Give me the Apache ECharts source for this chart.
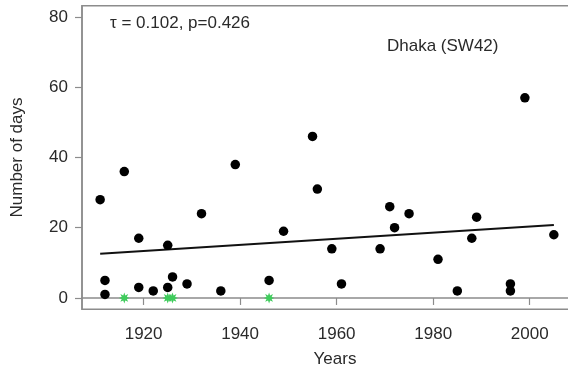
<!DOCTYPE html>
<html>
<head>
<meta charset="utf-8">
<script src="https://cdn.jsdelivr.net/npm/echarts@6/dist/echarts.min.js"></script>
<style>
  html, body { margin: 0; padding: 0; background: #fff; }
  #chart { width: 568px; height: 369px; }
</style>
</head>
<body>
<div id="chart"></div>
<script>
// years with at least one day
const years = [1911, 1912, 1912, 1916, 1919, 1919, 1922, 1925, 1925, 1926, 1929, 1932, 1936, 1939,
  1946, 1949, 1955, 1956, 1959, 1961, 1969, 1971, 1972, 1975, 1981, 1985, 1988, 1989, 1996, 1996, 1999, 2005]
const days = [28, 5, 1, 36, 17, 3, 2, 15, 3, 6, 4, 24, 2, 38,
  5, 19, 46, 31, 14, 4, 14, 26, 20, 24, 11, 2, 17, 23, 4, 2, 57, 18]
// years with zero days (green stars)
const zeroYears = [1916, 1925, 1926, 1946]
const zeroDays = [0, 0, 0, 0]
// trend line ends
const trendYears = [1911, 2005]
const trendDays = [12.6, 20.8]

const xTicks = [1920, 1940, 1960, 1980, 2000]
const yTicks = [0, 20, 40, 60, 80]

// 8-pointed star symbol
function starPath() {
  let d = ''
  for (let i = 0; i < 16; i++) {
    const r = i % 2 === 0 ? 10 : 5
    const a = Math.PI * i / 8
    d += (i === 0 ? 'M' : 'L') + (10 + r * Math.sin(a)).toFixed(2) + ',' + (10 - r * Math.cos(a)).toFixed(2)
  }
  return 'path://' + d + 'Z'
}

const txt = '#2a2a2a'
const gray = '#8c8c8c'
const font = 'Liberation Sans, Arial, Helvetica, sans-serif'

const myChart = echarts.init(document.getElementById('chart'))
myChart.setOption({
  animation: false,
  grid: {
    left: 82,
    top: 5.8,
    width: 490,
    bottom: 59.8,
    outerBoundsMode: 'none',
    containLabel: false,
    show: true,
    borderColor: gray,
    borderWidth: 1.5,
  },
  xAxis: {
    type: 'value',
    min: 1907.24,
    max: 2008.76,
    name: 'Years',
    nameLocation: 'middle',
    nameGap: 42,
    nameTextStyle: { color: txt, fontSize: 17, fontFamily: font, padding: [0, 0, 0, 16] },
    splitLine: { show: false },
    axisLine: { show: true, lineStyle: { color: gray, width: 1.5 } },
    axisTick: { show: true, inside: false, length: 7, customValues: xTicks, lineStyle: { color: gray, width: 1.2 } },
    axisLabel: { customValues: xTicks, color: txt, fontSize: 17, fontFamily: font, margin: 17,
      formatter: (v) => String(v) },
  },
  yAxis: {
    type: 'value',
    min: -3.2,
    max: 83.2,
    name: 'Number of days',
    nameLocation: 'middle',
    nameGap: 56,
    nameTextStyle: { color: txt, fontSize: 17, fontFamily: font },
    splitLine: { show: false },
    axisLine: { show: true, lineStyle: { color: gray, width: 1.5 } },
    axisTick: { show: true, inside: false, length: 7, customValues: yTicks, lineStyle: { color: gray, width: 1.2 } },
    axisLabel: { customValues: yTicks, color: txt, fontSize: 17, fontFamily: font, margin: 14,
      formatter: (v) => String(v) },
  },
  graphic: [
    { type: 'text', left: 110, top: 15, style: { text: 'τ = 0.102, p=0.426', fill: txt, font: '17px ' + font } },
    { type: 'text', left: 387, top: 38, style: { text: 'Dhaka (SW42)', fill: txt, font: '17px ' + font } },
  ],
  series: [
    {
      type: 'line',
      data: trendYears.map((y, i) => [y, trendDays[i]]),
      showSymbol: false,
      lineStyle: { color: '#111', width: 2 },
      z: 2,
    },
    {
      type: 'scatter',
      data: years.map((y, i) => [y, days[i]]),
      symbol: 'circle',
      symbolSize: 9.5,
      itemStyle: { color: '#000', opacity: 1 },
      z: 3,
    },
    {
      type: 'scatter',
      data: zeroYears.map((y, i) => [y, zeroDays[i]]),
      symbol: starPath(),
      symbolSize: 11,
      itemStyle: { color: '#3fcc5c', opacity: 1 },
      z: 3,
    },
  ],
})
</script>
</body>
</html>
